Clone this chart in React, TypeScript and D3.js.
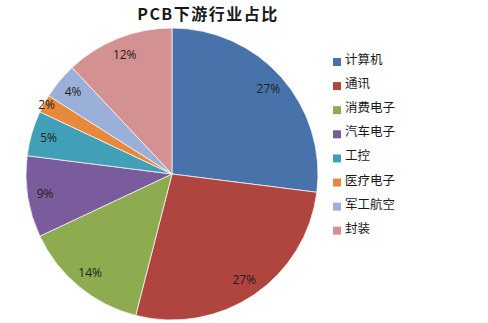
import React from "react";
import * as d3 from "d3";

const categories = ["计算机", "通讯", "消费电子", "汽车电子", "工控", "医疗电子", "军工航空", "封装"];
const shares = [27, 27, 14, 9, 5, 2, 4, 12];
const colors = ["#4873AA", "#B0443F", "#8DAC50", "#7A5B9B", "#41A0B8", "#E8883A", "#9AB0D9", "#D39192"];
const title = "PCB下游行业占比";

const W = 488;
const H = 323;
const cx = 172;
const cy = 174;
const R = 146;

export default function App() {
  const pie = d3.pie<number>().sort(null).value((d) => d);
  const arcs = pie(shares);
  const arcGen = d3.arc<d3.PieArcDatum<number>>().innerRadius(0).outerRadius(R);
  const total = d3.sum(shares);

  return (
    <svg
      width={W}
      height={H}
      style={{ position: "absolute", left: 0, top: 0, background: "#fff" }}
    >
      <text
        x={208}
        y={20}
        textAnchor="middle"
        fontFamily="'Noto Sans CJK SC', 'Noto Sans', sans-serif"
        fontWeight="bold"
        fontSize={16}
        letterSpacing={1.5}
        fill="#1a1a1a"
      >
        {title}
      </text>
      <g transform={`translate(${cx},${cy})`}>
        {arcs.map((a, i) => (
          <path key={i} d={arcGen(a) || ""} fill={colors[i]} stroke="#f4f4f4" strokeWidth={0.8} />
        ))}
        {arcs.map((a, i) => {
          const mid = (a.startAngle + a.endAngle) / 2;
          const frac = a.data / total;
          const lr = frac < 0.03 ? R * 0.98 : R * 0.88;
          const x = Math.sin(mid) * lr;
          const y = -Math.cos(mid) * lr;
          return (
            <text
              key={"l" + i}
              x={x}
              y={y}
              dy="0.35em"
              textAnchor="middle"
              fontFamily="'Open Sans', 'Liberation Sans', sans-serif"
              fontSize={12}
              fill="#1e1e1e"
            >
              {`${a.data}%`}
            </text>
          );
        })}
      </g>
      <g>
        {categories.map((c, i) => (
          <g key={c} transform={`translate(333,${58 + i * 24.1})`}>
            <rect x={0} y={0} width={8} height={8} fill={colors[i]} />
            <text
              x={12}
              y={6}
              fontFamily="'Noto Sans CJK SC', sans-serif"
              fontSize={12.5}
              fill="#1a1a1a"
            >
              {c}
            </text>
          </g>
        ))}
      </g>
    </svg>
  );
}
